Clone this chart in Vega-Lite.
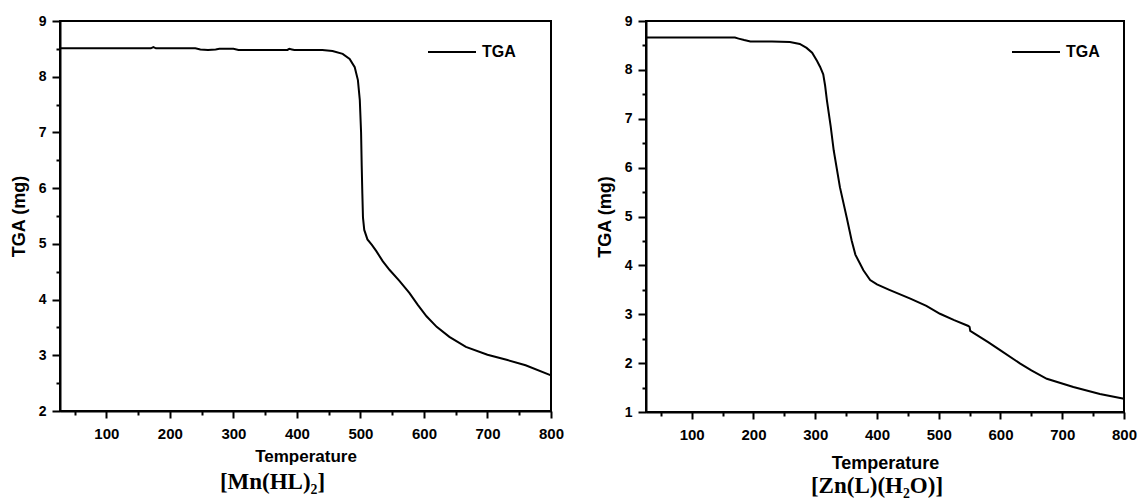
{
  "$schema": "https://vega.github.io/schema/vega-lite/v6.json",
  "background": "white",
  "padding": {"left": 9, "top": 13, "right": 0, "bottom": 0},
  "resolve": {"scale": {"color": "independent"}, "legend": {"color": "independent"}},
  "config": {
    "view": {"stroke": "black", "strokeWidth": 2},
    "concat": {"spacing": 30},
    "axis": {
      "grid": false,
      "domainColor": "black", "domainWidth": 2,
      "tickColor": "black", "tickWidth": 2,
      "labelFont": "Liberation Sans", "labelFontWeight": "bold", "labelColor": "black",
      "titleFont": "Liberation Sans", "titleFontWeight": "bold", "titleColor": "black",
      "labelFlush": false, "labelOverlap": false
    },
    "legend": {
      "labelFont": "Liberation Sans", "labelFontWeight": "bold", "labelColor": "black", "labelFontSize": 16
    }
  },
  "hconcat": [
    {
      "width": 491,
      "height": 390,
      "title": {"text": "[Mn(HL)₂]", "orient": "bottom", "font": "Liberation Serif", "fontSize": 23, "fontWeight": "bold", "color": "black", "dx": -33, "offset": 7},
      "data": {"values": [
        {"t": 27, "m": 8.51, "s": "TGA"}, {"t": 100, "m": 8.51, "s": "TGA"}, {"t": 150, "m": 8.51, "s": "TGA"},
        {"t": 170, "m": 8.51, "s": "TGA"}, {"t": 174, "m": 8.53, "s": "TGA"}, {"t": 178, "m": 8.51, "s": "TGA"},
        {"t": 240, "m": 8.51, "s": "TGA"}, {"t": 248, "m": 8.49, "s": "TGA"}, {"t": 260, "m": 8.48, "s": "TGA"},
        {"t": 272, "m": 8.49, "s": "TGA"}, {"t": 278, "m": 8.50, "s": "TGA"}, {"t": 300, "m": 8.50, "s": "TGA"},
        {"t": 308, "m": 8.48, "s": "TGA"}, {"t": 350, "m": 8.48, "s": "TGA"}, {"t": 385, "m": 8.48, "s": "TGA"},
        {"t": 388, "m": 8.50, "s": "TGA"}, {"t": 392, "m": 8.49, "s": "TGA"}, {"t": 396, "m": 8.48, "s": "TGA"},
        {"t": 440, "m": 8.48, "s": "TGA"}, {"t": 456, "m": 8.46, "s": "TGA"}, {"t": 472, "m": 8.41, "s": "TGA"},
        {"t": 483, "m": 8.32, "s": "TGA"}, {"t": 491, "m": 8.17, "s": "TGA"}, {"t": 496, "m": 7.94, "s": "TGA"},
        {"t": 499, "m": 7.58, "s": "TGA"}, {"t": 501, "m": 7.0, "s": "TGA"}, {"t": 502, "m": 6.4, "s": "TGA"},
        {"t": 503, "m": 5.9, "s": "TGA"}, {"t": 504, "m": 5.47, "s": "TGA"}, {"t": 506, "m": 5.25, "s": "TGA"},
        {"t": 511, "m": 5.08, "s": "TGA"}, {"t": 518, "m": 4.98, "s": "TGA"}, {"t": 525, "m": 4.87, "s": "TGA"},
        {"t": 535, "m": 4.69, "s": "TGA"}, {"t": 546, "m": 4.53, "s": "TGA"}, {"t": 561, "m": 4.34, "s": "TGA"},
        {"t": 577, "m": 4.12, "s": "TGA"}, {"t": 590, "m": 3.91, "s": "TGA"}, {"t": 604, "m": 3.70, "s": "TGA"},
        {"t": 620, "m": 3.51, "s": "TGA"}, {"t": 640, "m": 3.33, "s": "TGA"}, {"t": 666, "m": 3.15, "s": "TGA"},
        {"t": 700, "m": 3.01, "s": "TGA"}, {"t": 730, "m": 2.92, "s": "TGA"}, {"t": 760, "m": 2.82, "s": "TGA"},
        {"t": 800, "m": 2.64, "s": "TGA"}
      ]},
      "mark": {"type": "line", "strokeWidth": 2, "interpolate": "linear"},
      "encoding": {
        "x": {
          "field": "t", "type": "quantitative",
          "scale": {"domain": [27, 800], "nice": false, "zero": false},
          "axis": {
            "title": "Temperature", "titleFontSize": 17, "titlePadding": 7,
            "values": [50, 100, 150, 200, 250, 300, 350, 400, 450, 500, 550, 600, 650, 700, 750, 800],
            "labelExpr": "datum.value % 100 === 0 ? '' + datum.value : ''",
            "tickSize": {"condition": {"test": "datum.value % 100 === 0", "value": 7}, "value": 4},
            "labelFontSize": 15, "labelPadding": 8
          }
        },
        "y": {
          "field": "m", "type": "quantitative",
          "scale": {"domain": [2, 9], "nice": false, "zero": false},
          "axis": {
            "title": "TGA (mg)", "titleFontSize": 18, "titlePadding": 10,
            "values": [2, 2.5, 3, 3.5, 4, 4.5, 5, 5.5, 6, 6.5, 7, 7.5, 8, 8.5, 9],
            "labelExpr": "datum.value % 1 === 0 ? '' + datum.value : ''",
            "tickSize": {"condition": {"test": "datum.value % 1 === 0", "value": 8}, "value": 4},
            "labelFontSize": 14, "labelPadding": 6
          }
        },
        "color": {
          "field": "s", "type": "nominal",
          "scale": {"range": ["black"]},
          "legend": {"title": null, "orient": "none", "legendX": 367, "legendY": 6, "symbolType": "stroke", "symbolSize": 2304, "symbolStrokeWidth": 2, "labelOffset": 5}
        }
      }
    },
    {
      "width": 478,
      "height": 391,
      "title": {"text": "[Zn(L)(H₂O)]", "orient": "bottom", "font": "Liberation Serif", "fontSize": 23, "fontWeight": "bold", "color": "black", "dx": -8, "offset": 3},
      "data": {"values": [
        {"t": 26, "m": 8.66, "s": "TGA"}, {"t": 100, "m": 8.66, "s": "TGA"}, {"t": 170, "m": 8.66, "s": "TGA"},
        {"t": 176, "m": 8.64, "s": "TGA"}, {"t": 185, "m": 8.61, "s": "TGA"}, {"t": 195, "m": 8.58, "s": "TGA"},
        {"t": 230, "m": 8.58, "s": "TGA"}, {"t": 259, "m": 8.57, "s": "TGA"}, {"t": 275, "m": 8.53, "s": "TGA"},
        {"t": 286, "m": 8.45, "s": "TGA"}, {"t": 295, "m": 8.35, "s": "TGA"}, {"t": 303, "m": 8.18, "s": "TGA"},
        {"t": 308, "m": 8.06, "s": "TGA"}, {"t": 313, "m": 7.91, "s": "TGA"}, {"t": 316, "m": 7.68, "s": "TGA"},
        {"t": 319, "m": 7.37, "s": "TGA"}, {"t": 325, "m": 6.85, "s": "TGA"}, {"t": 330, "m": 6.35, "s": "TGA"},
        {"t": 340, "m": 5.60, "s": "TGA"}, {"t": 351, "m": 4.98, "s": "TGA"}, {"t": 359, "m": 4.51, "s": "TGA"},
        {"t": 365, "m": 4.22, "s": "TGA"}, {"t": 372, "m": 4.05, "s": "TGA"}, {"t": 378, "m": 3.90, "s": "TGA"},
        {"t": 389, "m": 3.70, "s": "TGA"}, {"t": 400, "m": 3.61, "s": "TGA"}, {"t": 420, "m": 3.50, "s": "TGA"},
        {"t": 454, "m": 3.32, "s": "TGA"}, {"t": 480, "m": 3.17, "s": "TGA"}, {"t": 502, "m": 3.01, "s": "TGA"},
        {"t": 525, "m": 2.88, "s": "TGA"}, {"t": 548, "m": 2.76, "s": "TGA"}, {"t": 550, "m": 2.74, "s": "TGA"},
        {"t": 551, "m": 2.66, "s": "TGA"}, {"t": 560, "m": 2.59, "s": "TGA"}, {"t": 580, "m": 2.43, "s": "TGA"},
        {"t": 600, "m": 2.26, "s": "TGA"}, {"t": 632, "m": 1.99, "s": "TGA"}, {"t": 650, "m": 1.85, "s": "TGA"},
        {"t": 675, "m": 1.68, "s": "TGA"}, {"t": 718, "m": 1.51, "s": "TGA"}, {"t": 761, "m": 1.37, "s": "TGA"},
        {"t": 800, "m": 1.27, "s": "TGA"}
      ]},
      "mark": {"type": "line", "strokeWidth": 2, "interpolate": "linear"},
      "encoding": {
        "x": {
          "field": "t", "type": "quantitative",
          "scale": {"domain": [26, 800], "nice": false, "zero": false},
          "axis": {
            "title": "Temperature", "titleFontSize": 18, "titlePadding": 12,
            "values": [50, 100, 150, 200, 250, 300, 350, 400, 450, 500, 550, 600, 650, 700, 750, 800],
            "labelExpr": "datum.value % 100 === 0 ? '' + datum.value : ''",
            "tickSize": {"condition": {"test": "datum.value % 100 === 0", "value": 7}, "value": 4},
            "labelFontSize": 15, "labelPadding": 8
          }
        },
        "y": {
          "field": "m", "type": "quantitative",
          "scale": {"domain": [1, 9], "nice": false, "zero": false},
          "axis": {
            "title": "TGA (mg)", "titleFontSize": 18, "titlePadding": 10,
            "values": [1, 1.5, 2, 2.5, 3, 3.5, 4, 4.5, 5, 5.5, 6, 6.5, 7, 7.5, 8, 8.5, 9],
            "labelExpr": "datum.value % 1 === 0 ? '' + datum.value : ''",
            "tickSize": {"condition": {"test": "datum.value % 1 === 0", "value": 8}, "value": 4},
            "labelFontSize": 14, "labelPadding": 6
          }
        },
        "color": {
          "field": "s", "type": "nominal",
          "scale": {"range": ["black"]},
          "legend": {"title": null, "orient": "none", "legendX": 365, "legendY": 6, "symbolType": "stroke", "symbolSize": 2304, "symbolStrokeWidth": 2, "labelOffset": 5}
        }
      }
    }
  ]
}
